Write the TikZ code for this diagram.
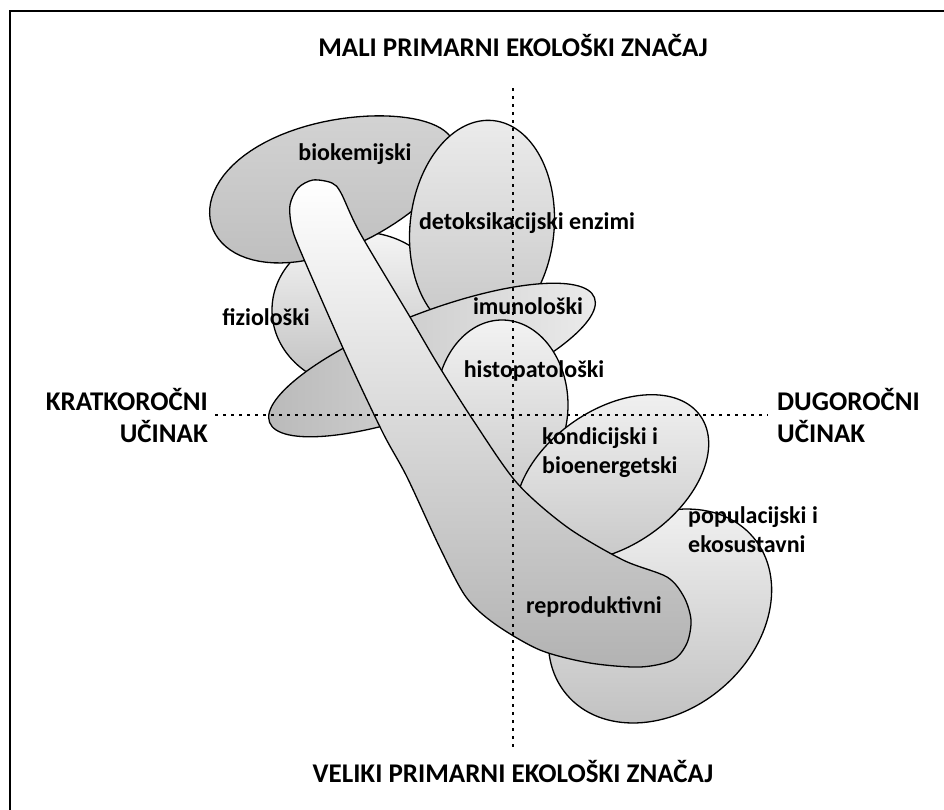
\documentclass[tikz,border=0pt]{standalone}
\usepackage{fontspec}
\setmainfont{Carlito}
\usetikzlibrary{positioning}

\begin{document}
\begin{tikzpicture}[
  x=1pt, y=-1pt,
  blob/.style={draw=black, line width=1.3pt},
  lbl/.style={font=\fontsize{24}{29}\selectfont\bfseries, inner sep=0pt},
  axislbl/.style={font=\fontsize{27}{32}\selectfont\bfseries, inner sep=0pt},
  axisline/.style={line width=2pt, dash pattern=on 3pt off 5pt}
]

\useasboundingbox (0,0) rectangle (944,809);

% -------------------------
% Frame (open to the right and bottom)
% -------------------------

\draw[line width=2.5pt] (10,820) -- (10,11) -- (950,11);

% -------------------------
% Blobs, back to front
% -------------------------

% fizioloski
\shade[blob, top color=gray!8, bottom color=gray!50] (360,310) ellipse [x radius=88, y radius=78];

% biokemijski (egg shaped, fat end on the left)
\shade[blob, top color=gray!35, bottom color=gray!50]
  plot[domain=0:360, samples=90]
    ({333 + 128*cos(\x)*cos(19) - (64-10*cos(\x))*sin(\x)*sin(19)},
     {185 - (128*cos(\x)*sin(19) + (64-10*cos(\x))*sin(\x)*cos(19))}) -- cycle;

% detoksikacijski enzimi
\shade[blob, top color=gray!15, bottom color=gray!45, rotate around={-6:(482,228)}]
  (482,228) ellipse [x radius=72, y radius=108];

% imunoloski (long one, runs under the tube)
\shade[blob, left color=gray!55, right color=gray!15, rotate around={21:(432,360)}]
  (432,360) ellipse [x radius=174, y radius=48];

% histopatoloski
\shade[blob, top color=gray!10, bottom color=gray!40] (502,405) ellipse [x radius=66, y radius=85];

% populacijski i ekosustavni
\shade[blob, top color=gray!10, bottom color=gray!50, rotate around={40:(660,616)}]
  (660,616) ellipse [x radius=122, y radius=95];

% kondicijski i bioenergetski
\shade[blob, top color=gray!10, bottom color=gray!45, rotate around={35:(612,478)}]
  (612,478) ellipse [x radius=108, y radius=68];

% tube, ends in reproduktivni
\shade[blob, top color=white, bottom color=gray!60, middle color=gray!30]
  plot[smooth cycle, tension=0.5] coordinates {
    (313,180) (332,183) (341,193) (360,233) (410,317) (437,363) (473,420)
    (517,483) (567,527) (623,560) (667,577) (684,597) (691,620) (687,643)
    (673,660) (640,667) (590,663) (540,650) (495,624) (466,597) (440,548)
    (407,477) (383,433) (347,357) (303,257) (292,228) (290,205) (298,188)};

% -------------------------
% Axes
% -------------------------

\coordinate (hl) at (215,415);
\coordinate (hr) at (768,415);
\coordinate (vt) at (513,88);
\coordinate (vb) at (513,748);

\draw[axisline] (hl) -- (hr);
\draw[axisline] (vt) -- (vb);

\node[axislbl, align=right, left=7pt of hl] (kratko) {KRATKOROČNI\\UČINAK};
\node[axislbl, align=left, right=9pt of hr] (dugo) {DUGOROČNI\\UČINAK};
\node[axislbl, above=31pt of vt] (mali) {MALI PRIMARNI EKOLOŠKI ZNAČAJ};
\node[axislbl, below=12pt of vb] (veliki) {VELIKI PRIMARNI EKOLOŠKI ZNAČAJ};

% -------------------------
% Labels
% -------------------------

\node[lbl, anchor=base] (biokem) at (355,160) {biokemijski};
\node[lbl, anchor=base] (detoks) at (527,229) {detoksikacijski enzimi};
\node[lbl, anchor=base] (fizio) at (266,325) {fiziološki};
\node[lbl, anchor=base] (imuno) at (528,314) {imunološki};
\node[lbl, anchor=base] (histo) at (534,377) {histopatološki};
\node[lbl, anchor=base west, align=left] (kondi) at (542,473) {kondicijski i\\bioenergetski};
\node[lbl, anchor=base west, align=left] (popul) at (688,552) {populacijski i\\ekosustavni};
\node[lbl, anchor=base] (repro) at (594,613) {reproduktivni};

\end{tikzpicture}
\end{document}
